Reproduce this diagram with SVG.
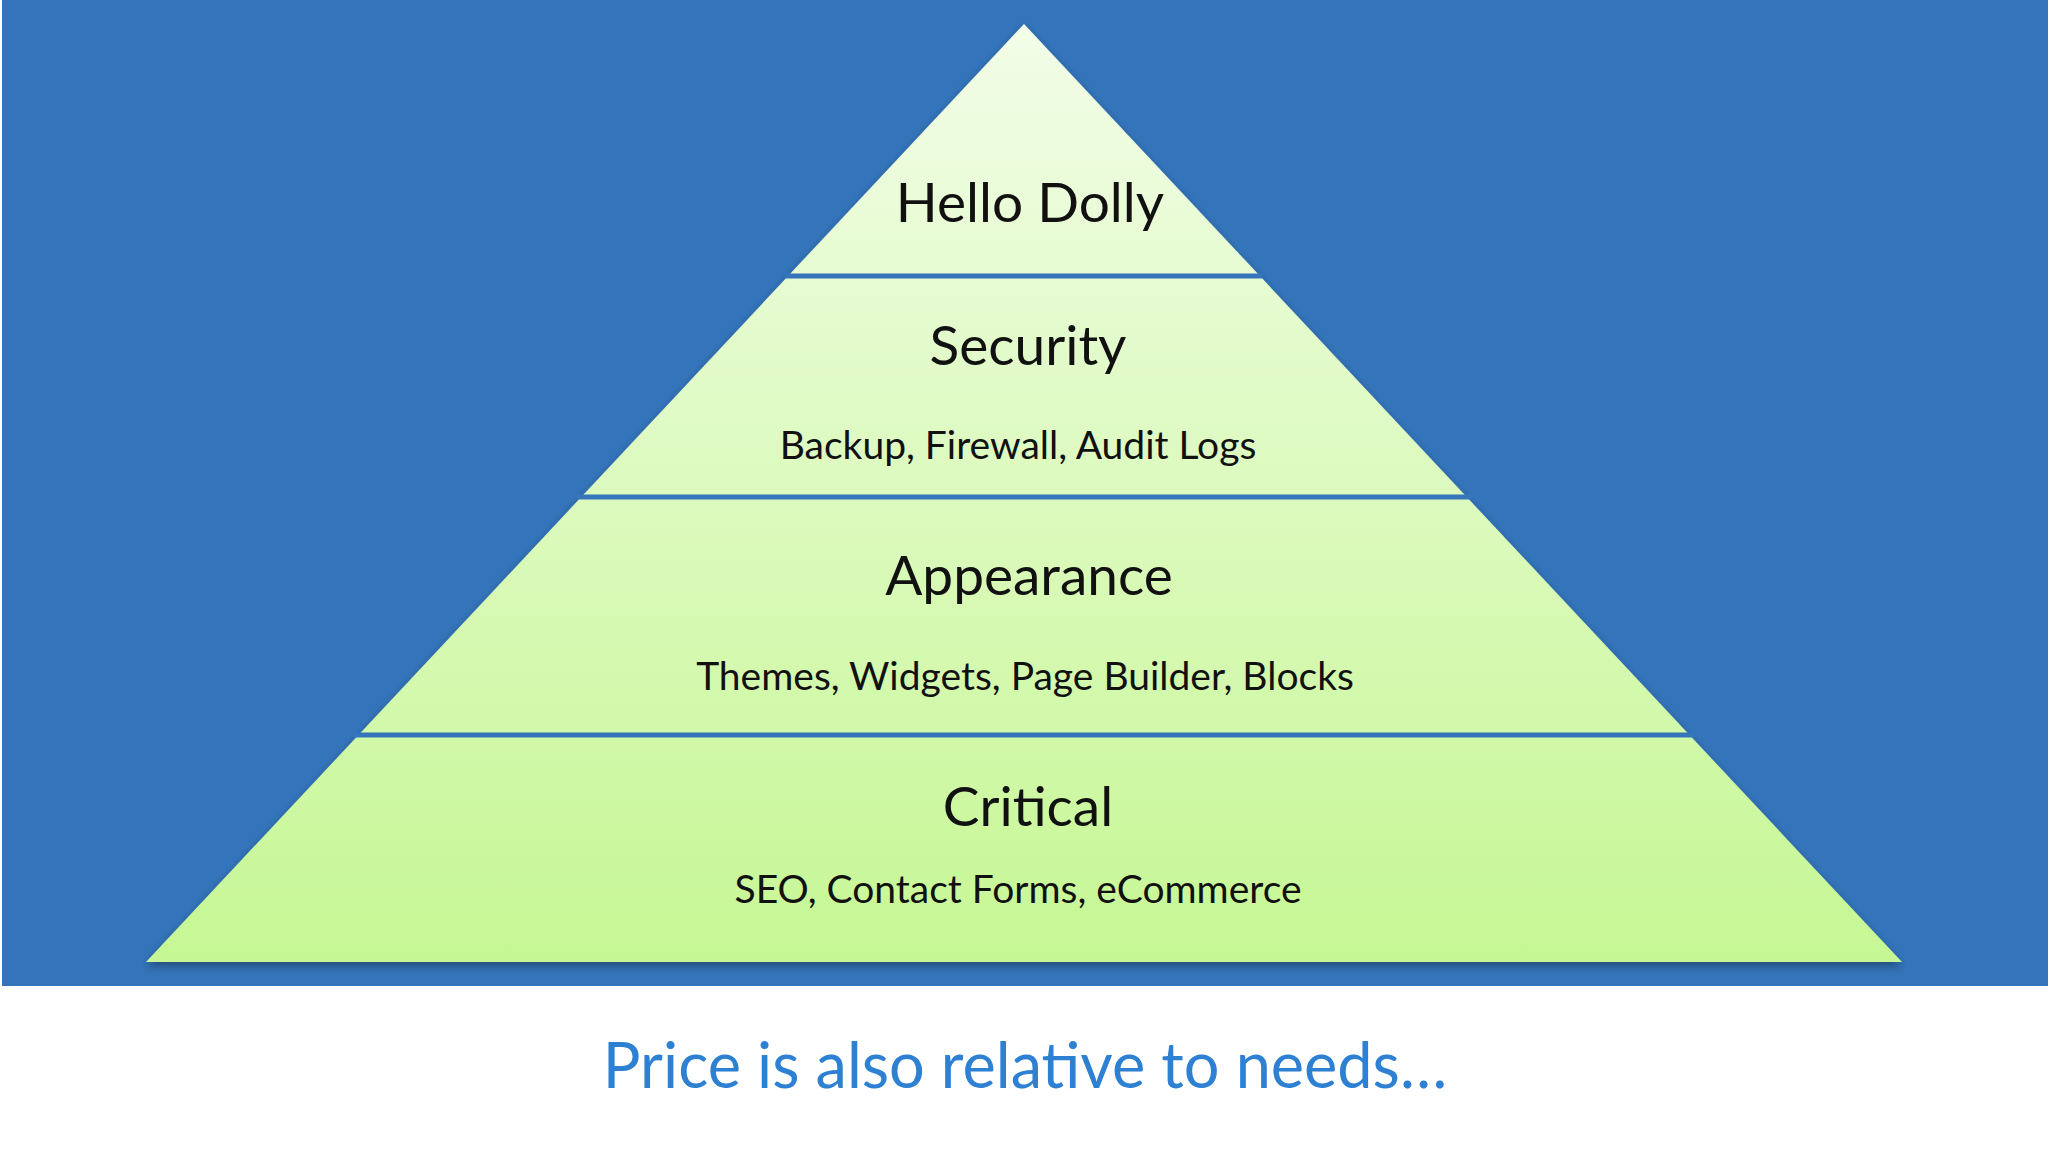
<svg xmlns="http://www.w3.org/2000/svg" width="2048" height="1152" viewBox="0 0 2048 1152">
<defs>
<linearGradient id="g" x1="0" y1="23" x2="0" y2="962" gradientUnits="userSpaceOnUse">
<stop offset="0" stop-color="#f2fde8"/><stop offset="1" stop-color="#c6f794"/>
</linearGradient>
<filter id="sh" x="-5%" y="-5%" width="110%" height="110%"><feDropShadow dx="0" dy="4" stdDeviation="4" flood-color="#000" flood-opacity="0.35"/></filter>
</defs>
<style>
.t{font-family:Lato,"Open Sans","Liberation Sans",sans-serif;fill:#111;text-anchor:middle}
.h{font-size:55px}.s{font-size:39px}
.d{stroke:#3674bb;stroke-width:5}
</style>
<rect width="2048" height="1152" fill="#fff"/>
<rect x="2" y="0" width="2046" height="986" fill="#3474ba"/>
<g id="pyramid"><polygon points="1024,24 1902,962 146,962" fill="url(#g)" filter="url(#sh)"/></g>
<g id="connectors">
<line class="d" x1="786" y1="276" x2="1262" y2="276"/>
<line class="d" x1="577" y1="497" x2="1472" y2="497"/>
<line class="d" x1="353" y1="735" x2="1695" y2="735"/>
</g>
<g id="n1"><text class="t h" x="1030" y="222">Hello Dolly</text></g>
<g id="n2"><text class="t h" x="1028" y="365">Security</text><text class="t s" x="1018" y="459">Backup, Firewall, Audit Logs</text></g>
<g id="n3"><text class="t h" x="1029" y="595">Appearance</text><text class="t s" x="1025" y="690">Themes, Widgets, Page Builder, Blocks</text></g>
<g id="n4"><text class="t h" x="1028" y="826">Critical</text><text class="t s" x="1018" y="903">SEO, Contact Forms, eCommerce</text></g>
<text x="1025" y="1088" font-family="Lato,'Open Sans','Liberation Sans',sans-serif" font-size="63" fill="#2d80d2" text-anchor="middle">Price is also relative to needs…</text>
</svg>
